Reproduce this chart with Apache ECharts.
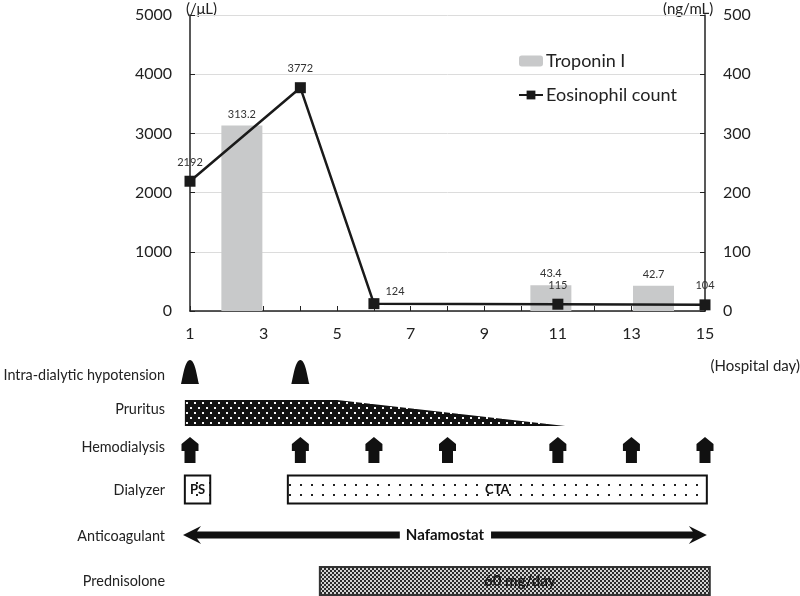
<!DOCTYPE html>
<html>
<head>
<meta charset="utf-8">
<script src="https://cdn.jsdelivr.net/npm/echarts/dist/echarts.min.js"></script>
<style>
html,body{margin:0;padding:0;background:#fff;}
#main{width:800px;height:596px;}
</style>
</head>
<body>
<div id="main"></div>
<script>
// ---------- data ----------
const eosDays = [1, 4, 6, 11, 15];
const eosinophil = [2192, 3772, 124, 115, 104];
const tropDays = [2.41, 10.81, 13.6];
const troponin = [313.2, 43.4, 42.7];
const xTicks = [1, 3, 5, 7, 9, 11, 13, 15];
const leftTicks = [0, 1000, 2000, 3000, 4000, 5000];
const rightTicks = [0, 100, 200, 300, 400, 500];
const seriesNames = ['Troponin I', 'Eosinophil count'];
const unitLeft = '(/μL)';
const unitRight = '(ng/mL)';
const xName = '(Hospital day)';

const rowLabels = ['Intra-dialytic hypotension', 'Pruritus', 'Hemodialysis', 'Dialyzer', 'Anticoagulant', 'Prednisolone'];
const hypotensionDays = [1, 4];
const pruritusSpan = [0.86, 5.0, 11.2];      // start, taper start, end
const hemodialysisDays = [1, 4, 6, 8, 11, 13, 15];
const dialyzerNames = ['PS', 'CTA'];
const dialyzerStart = [0.86, 3.66];
const dialyzerEnd = [1.55, 15.05];
const anticoagName = 'Nafamostat';
const anticoagSpan = [0.81, 15.05];
const predName = '60 mg/day';
const predSpan = [4.53, 15.13];

// ---------- layout ----------
const FONT = 'Lato';
const ROW_Y = [372, 413, 450, 489.5, 535, 581];
const LABEL_Y = [375, 409, 447, 490, 536, 581];

function makePattern(w, h, bg, fg, dots, s) {
  const c = document.createElement('canvas');
  c.width = w; c.height = h;
  const ctx = c.getContext('2d');
  ctx.fillStyle = bg; ctx.fillRect(0, 0, w, h);
  ctx.fillStyle = fg;
  dots.forEach(d => ctx.fillRect(d[0], d[1], s, s));
  return { image: c, repeat: 'repeat' };
}
const prurPattern = makePattern(8, 10, '#111', '#f4f4f4', [[2, 2], [6, 7]], 2);
const ctaPattern = makePattern(11, 10, '#fff', '#222', [[3, 4]], 2);
const psPattern = makePattern(13, 12, '#fff', '#222', [[1, 2]], 2);
const predPattern = (function () {
  const c = document.createElement('canvas');
  c.width = 4; c.height = 4;
  const ctx = c.getContext('2d');
  ctx.fillStyle = '#d2d2d2'; ctx.fillRect(0, 0, 4, 4);
  ctx.fillStyle = '#2a2a2a';
  ctx.fillRect(0, 0, 2, 2); ctx.fillRect(2, 2, 2, 2);
  return { image: c, repeat: 'repeat' };
})();

function textWidth(t, font) {
  const c = document.createElement('canvas').getContext('2d');
  c.font = font;
  return c.measureText(t).width;
}

const axisCol = '#222';
const chart = echarts.init(document.getElementById('main'));

const option = {
  animation: false,
  textStyle: { fontFamily: FONT },
  grid: [
    { left: 190, top: 15, width: 515, height: 296 },
    { left: 190, top: 0, width: 515, height: 596 }
  ],
  legend: {
    data: seriesNames,
    orient: 'vertical',
    left: 513, top: 47,
    itemWidth: 24, itemHeight: 11, itemGap: 16,
    textStyle: { fontSize: 18, color: '#222', fontFamily: FONT, padding: [0, 0, 0, -2] }
  },
  xAxis: [
    {
      type: 'value', gridIndex: 0,
      min: xTicks[0], max: xTicks[xTicks.length - 1], interval: 1,
      axisLine: { lineStyle: { color: axisCol, width: 1.5 } },
      axisTick: { inside: true, length: 5, lineStyle: { color: axisCol } },
      axisLabel: {
        fontSize: 16, color: axisCol, margin: 15,
        formatter: v => (xTicks.indexOf(v) >= 0 ? String(v) : '')
      },
      splitLine: { show: false }
    },
    { type: 'value', gridIndex: 1, min: xTicks[0], max: xTicks[xTicks.length - 1], show: false }
  ],
  yAxis: [
    {
      type: 'value', gridIndex: 0,
      min: leftTicks[0], max: leftTicks[leftTicks.length - 1], interval: leftTicks[1] - leftTicks[0],
      axisLine: { show: true, lineStyle: { color: axisCol, width: 1.5 } },
      axisTick: { show: true, inside: true, length: 5, lineStyle: { color: axisCol } },
      axisLabel: { fontSize: 16, color: axisCol, margin: 18, formatter: v => String(v) },
      splitLine: { show: true, lineStyle: { color: '#dcdcdc', width: 1 } }
    },
    {
      type: 'value', gridIndex: 0, position: 'right',
      min: rightTicks[0], max: rightTicks[rightTicks.length - 1], interval: rightTicks[1] - rightTicks[0],
      axisLine: { show: true, lineStyle: { color: axisCol, width: 1.5 } },
      axisTick: { show: true, inside: true, length: 5, lineStyle: { color: axisCol } },
      axisLabel: { fontSize: 16, color: axisCol, margin: 18, formatter: v => String(v) },
      splitLine: { show: false }
    },
    { type: 'value', gridIndex: 1, min: 0, max: 596, inverse: true, show: false }
  ],
  graphic: [
    { type: 'text', left: 186, top: 2, style: { text: unitLeft, font: '15px ' + FONT, fill: '#222' } },
    { type: 'text', left: 663, top: 2, style: { text: unitRight, font: '15px ' + FONT, fill: '#222' } },
    { type: 'text', right: 0, top: 359, style: { text: xName, font: '15px ' + FONT, fill: '#222' } }
  ].concat(rowLabels.map((t, i) => ({
    type: 'text', x: 165, y: LABEL_Y[i],
    style: { text: t, font: '14.4px ' + FONT, fill: '#222', align: 'right', verticalAlign: 'middle' }
  }))),
  series: [
    {
      name: seriesNames[0], type: 'bar', xAxisIndex: 0, yAxisIndex: 1,
      barWidth: 41,
      itemStyle: { color: '#c8c9ca' },
      label: { show: true, position: 'top', distance: 6, fontSize: 11, color: '#333', fontFamily: FONT },
      data: tropDays.map((d, i) => [d, troponin[i]])
    },
    {
      name: seriesNames[1], type: 'line', xAxisIndex: 0, yAxisIndex: 0,
      symbol: 'rect', symbolSize: 11,
      lineStyle: { color: '#1a1a1a', width: 2.5 },
      itemStyle: { color: '#1a1a1a' },
      label: { show: true, position: 'top', distance: 8, fontSize: 11, color: '#333', fontFamily: FONT },
      data: eosDays.map((d, i) => {
        const item = { value: [d, eosinophil[i]] };
        if (i === 2) item.label = { position: 'right', offset: [-2, -12] };
        return item;
      }),
      z: 3
    },
    // Intra-dialytic hypotension
    {
      type: 'custom', xAxisIndex: 1, yAxisIndex: 2, silent: true,
      data: hypotensionDays.map(d => [d]),
      renderItem: (p, api) => {
        const pt = api.coord([api.value(0), ROW_Y[0]]);
        const x = pt[0], y = pt[1];
        return {
          type: 'path',
          shape: { pathData: `M${x - 9},${y + 12} C${x - 7},${y + 4} ${x - 5},${y - 12} ${x},${y - 12} C${x + 5},${y - 12} ${x + 7},${y + 4} ${x + 9},${y + 12} Z` },
          style: { fill: '#111' }
        };
      }
    },
    // Pruritus
    {
      type: 'custom', xAxisIndex: 1, yAxisIndex: 2, silent: true,
      data: [pruritusSpan],
      renderItem: (p, api) => {
        const a = api.coord([api.value(0), ROW_Y[1]]);
        const b = api.coord([api.value(1), ROW_Y[1]]);
        const c = api.coord([api.value(2), ROW_Y[1]]);
        const yT = a[1] - 13, yB = a[1] + 13;
        return {
          type: 'polygon',
          shape: { points: [[a[0], yT], [b[0], yT], [c[0], yB], [a[0], yB]] },
          style: { fill: prurPattern }
        };
      }
    },
    // Hemodialysis
    {
      type: 'custom', xAxisIndex: 1, yAxisIndex: 2, silent: true,
      data: hemodialysisDays.map(d => [d]),
      renderItem: (p, api) => {
        const pt = api.coord([api.value(0), ROW_Y[2]]);
        const x = pt[0], y = pt[1];
        const pts = [[0, -13], [8.5, -6], [8.5, 1], [5.5, 1], [5.5, 13], [-5.5, 13], [-5.5, 1], [-8.5, 1], [-8.5, -6]]
          .map(q => [x + q[0], y + q[1]]);
        return { type: 'polygon', shape: { points: pts }, style: { fill: '#111' } };
      }
    },
    // Dialyzer
    {
      type: 'custom', xAxisIndex: 1, yAxisIndex: 2, silent: true,
      data: dialyzerNames.map((n, i) => [dialyzerStart[i], dialyzerEnd[i], i]),
      renderItem: (p, api) => {
        const a = api.coord([api.value(0), ROW_Y[3]]);
        const b = api.coord([api.value(1), ROW_Y[3]]);
        const idx = api.value(2);
        const name = dialyzerNames[idx];
        return {
          type: 'group',
          children: [
            {
              type: 'rect',
              shape: { x: a[0], y: a[1] - 14, width: b[0] - a[0], height: 28 },
              style: { fill: idx === 0 ? psPattern : ctaPattern, stroke: '#111', lineWidth: 2 }
            },
            {
              type: 'text', x: (a[0] + b[0]) / 2, y: a[1],
              style: { text: name, font: 'bold 13px ' + FONT, fill: '#111', align: 'center', verticalAlign: 'middle' }
            }
          ]
        };
      }
    },
    // Anticoagulant
    {
      type: 'custom', xAxisIndex: 1, yAxisIndex: 2, silent: true,
      data: [anticoagSpan],
      renderItem: (p, api) => {
        const a = api.coord([api.value(0), ROW_Y[4]]);
        const b = api.coord([api.value(1), ROW_Y[4]]);
        const y = a[1];
        const font = 'bold 15px ' + FONT;
        const cx = (a[0] + b[0]) / 2;
        const tw = textWidth(anticoagName, font);
        const l = cx - tw / 2 - 6, r = cx + tw / 2 + 7;
        const h = 3.5, hw = 9, hl = 18;
        const left = [[a[0], y], [a[0] + hl, y - hw], [a[0] + hl - 4, y - h], [l, y - h], [l, y + h], [a[0] + hl - 4, y + h], [a[0] + hl, y + hw]];
        const right = [[b[0], y], [b[0] - hl, y - hw], [b[0] - hl + 4, y - h], [r, y - h], [r, y + h], [b[0] - hl + 4, y + h], [b[0] - hl, y + hw]];
        return {
          type: 'group',
          children: [
            { type: 'polygon', shape: { points: left }, style: { fill: '#111' } },
            { type: 'polygon', shape: { points: right }, style: { fill: '#111' } },
            { type: 'text', x: cx, y: y, style: { text: anticoagName, font: font, fill: '#111', align: 'center', verticalAlign: 'middle' } }
          ]
        };
      }
    },
    // Prednisolone
    {
      type: 'custom', xAxisIndex: 1, yAxisIndex: 2, silent: true,
      data: [predSpan],
      renderItem: (p, api) => {
        const a = api.coord([api.value(0), ROW_Y[5]]);
        const b = api.coord([api.value(1), ROW_Y[5]]);
        return {
          type: 'group',
          children: [
            {
              type: 'rect',
              shape: { x: a[0], y: a[1] - 14, width: b[0] - a[0], height: 28 },
              style: { fill: predPattern, stroke: '#333', lineWidth: 2 }
            },
            {
              type: 'text', x: (a[0] + b[0]) / 2 + 5, y: a[1],
              style: { text: predName, font: 'bold 15px ' + FONT, fill: '#1a1a1a', align: 'center', verticalAlign: 'middle' }
            }
          ]
        };
      }
    }
  ]
};
chart.setOption(option);
</script>
</body>
</html>
